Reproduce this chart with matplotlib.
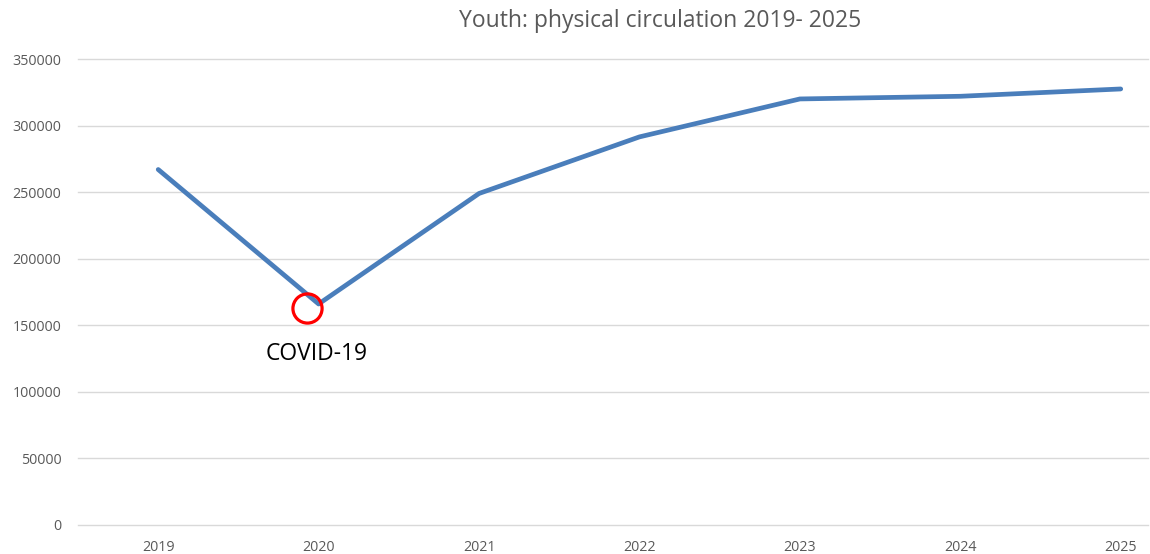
import matplotlib
matplotlib.use("Agg")
import matplotlib.pyplot as plt

years = ["2019", "2020", "2021", "2022", "2023", "2024", "2025"]
circulation = [267000, 166000, 249000, 291500, 320000, 322000, 327500]
y_ticks = [0, 50000, 100000, 150000, 200000, 250000, 300000, 350000]
title = "Youth: physical circulation 2019- 2025"
annotation = "COVID-19"

plt.rcParams['font.family'] = ['Open Sans', 'DejaVu Sans']

fig = plt.figure(figsize=(11.5, 5.54), dpi=100)
ax = fig.add_axes([78/1150, (554-525)/554, (1148-78)/1150, (525-59)/554])

x = list(range(len(years)))
ax.plot(x, circulation, color="#4a7ebb", lw=3.4, solid_capstyle="round", solid_joinstyle="round", zorder=3)

ax.set_xlim(-0.5, 6.17)
ax.set_ylim(0, 350000)
ax.set_yticks(y_ticks)
ax.set_yticklabels([str(v) for v in y_ticks])
ax.set_xticks(x)
ax.set_xticklabels(years)
ax.grid(axis="y", color="#d9d9d9", lw=1)
for gl in ax.get_ygridlines():
    gl.set_clip_on(False)
ax.set_axisbelow(True)
for s in ax.spines.values():
    s.set_visible(False)
ax.tick_params(axis="both", length=0, labelsize=10.3, labelcolor="#595959")
ax.tick_params(axis="y", pad=12)
ax.tick_params(axis="x", pad=11)

# red circle marking COVID dip
ax.plot([0.93], [163200], marker="o", markersize=21, markerfacecolor="none",
        markeredgecolor="#ff0000", markeredgewidth=2.3, zorder=4)
ax.text(0.99, 128500, annotation, ha="center", va="center", fontsize=16.5, color="black")

fig.text(660/1150, 1 - 21/554, title, ha="center", va="center", fontsize=16.5, color="#595959")

fig.savefig("out.png", dpi=100)
